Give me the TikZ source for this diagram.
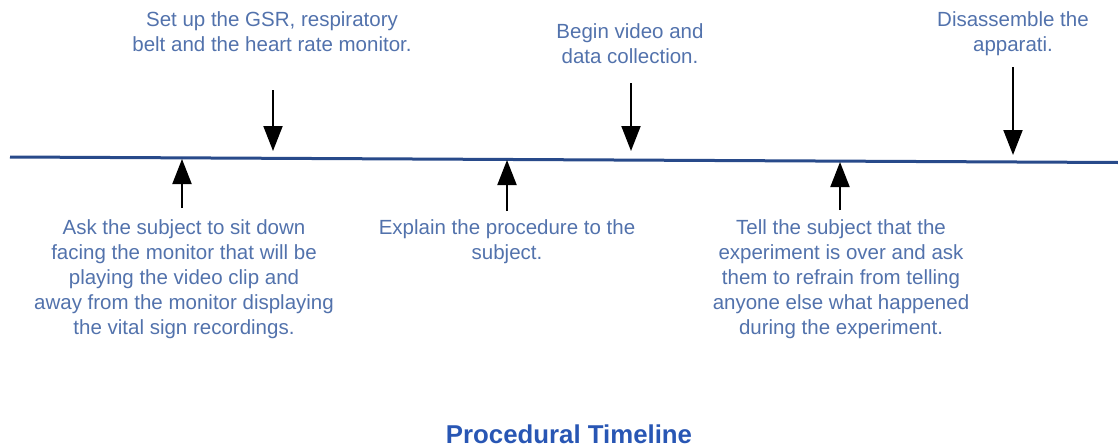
\documentclass[tikz,border=0pt]{standalone}
\usepackage{fontspec}
\setmainfont{Liberation Sans}
\usetikzlibrary{positioning}
\usetikzlibrary{arrows.meta}
\definecolor{steptext}{RGB}{82,114,172}
\definecolor{titleblue}{RGB}{40,86,180}
\definecolor{lineblue}{RGB}{40,74,138}
\tikzset{
    mytext/.style = {align=center,inner sep=0pt,anchor=north,font=\fontsize{20.5}{25}\selectfont,text=steptext},
    mytitle/.style = {inner sep=0pt,font=\fontsize{25.8}{30}\selectfont\bfseries,text=titleblue},
    edgel/.style = {-,line width=3pt,lineblue},
    edgea/.style = {-{Triangle[length=25pt,width=19pt]},line width=2pt,black},
}
\begin{document}
\begin{tikzpicture}[x=1pt,y=-1pt]
\useasboundingbox (0,0) rectangle (1118,447);
% the time line
\coordinate (l0) at (  10.00, 157.00);
\coordinate (l1) at (1118.00, 162.50);
\draw[edgel] (l0) -- (l1);
% steps above the line
\node[mytext] at ( 272.00,  11.00) (setup) {Set up the GSR, respiratory\\belt and the heart rate monitor.};
\node[mytext] at ( 630.00,  23.00) (video) {Begin video and\\data collection.};
\node[mytext] at (1013.00,  11.00) (apart) {Disassemble the\\apparati.};
\coordinate (setupt) at ( 273.00,  90.00);
\coordinate (setuph) at ( 273.00, 151.00);
\coordinate (videot) at ( 631.00,  83.00);
\coordinate (videoh) at ( 631.00, 151.00);
\coordinate (apartt) at (1013.00,  67.00);
\coordinate (aparth) at (1013.00, 155.00);
\draw[edgea] (setupt) -- (setuph);
\draw[edgea] (videot) -- (videoh);
\draw[edgea] (apartt) -- (aparth);
% steps below the line
\node[mytext] at ( 184.00, 219.00) (sit) {Ask the subject to sit down\\facing the monitor that will be\\playing the video clip and\\away from the monitor displaying\\the vital sign recordings.};
\node[mytext] at ( 507.00, 219.00) (explain) {Explain the procedure to the\\subject.};
\node[mytext] at ( 841.00, 219.00) (tell) {Tell the subject that the\\experiment is over and ask\\them to refrain from telling\\anyone else what happened\\during the experiment.};
\coordinate (sitt) at ( 182.00, 208.00);
\coordinate (sith) at ( 182.00, 159.00);
\coordinate (explaint) at ( 507.00, 211.00);
\coordinate (explainh) at ( 507.00, 160.00);
\coordinate (tellt) at ( 840.00, 210.00);
\coordinate (tellh) at ( 840.00, 162.00);
\draw[edgea] (sitt) -- (sith);
\draw[edgea] (explaint) -- (explainh);
\draw[edgea] (tellt) -- (tellh);
% title
\node[mytitle] at ( 569.00, 434.00) (title) {Procedural Timeline};
\end{tikzpicture}
\end{document}
